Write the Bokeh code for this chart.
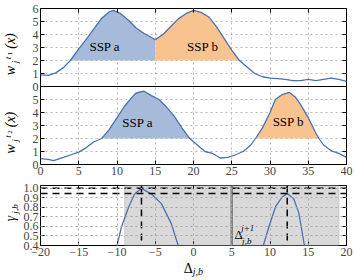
import numpy as np
from bokeh.plotting import figure
from bokeh.models import Range1d, LinearAxis, FixedTicker, Span, BoxAnnotation, Label
from bokeh.layouts import column, row
from bokeh.embed import file_html
from bokeh.resources import INLINE

# ---------------- data ----------------
x_t1 = [0, 1, 2, 3, 3.9, 5, 6, 7, 8, 9, 9.5, 10.5, 11.5, 12.5, 13.5, 14.3, 15, 16, 17, 18, 19, 20,
        21, 22, 23, 24, 25, 26, 27, 28, 29, 30, 31, 32, 33, 34, 35, 36, 37, 38, 39, 40]
w_t1 = [0.9, 0.85, 1.05, 1.45, 2.0, 2.9, 3.65, 4.45, 5.25, 5.75, 5.85, 5.6, 5.1, 4.5, 4.1, 3.85, 3.6,
        4.0, 4.6, 5.2, 5.6, 5.85, 5.7, 5.35, 4.6, 3.7, 2.8, 2.0, 1.5, 1.0, 0.75, 0.65, 0.6, 0.55,
        0.45, 0.45, 0.55, 0.45, 0.55, 0.65, 0.55, 0.4]

x_t2 = [0, 1, 1.7, 3, 4, 5, 6, 7, 8, 9, 10, 11, 12, 12.5, 13.5, 14.5, 15.5, 16.5, 17.5, 18.5, 19.5,
        20.5, 21.5, 22.5, 23.5, 24.5, 25.5, 26.5, 27.5, 28.1, 29, 30, 30.7, 31.5, 32.5, 33.3, 34, 35,
        36, 36.4, 37, 38, 39, 40]
w_t2 = [0.45, 0.4, 0.3, 0.55, 0.75, 0.95, 1.3, 1.75, 2.0, 2.7, 3.6, 4.5, 5.2, 5.5, 5.65, 5.3, 5.0,
        4.4, 3.7, 2.8, 2.0, 1.5, 1.0, 0.85, 0.5, 0.55, 0.75, 1.0, 1.5, 2.0, 2.8, 4.0, 5.0, 5.35,
        5.55, 5.2, 4.6, 3.6, 2.4, 2.0, 1.5, 1.05, 0.85, 0.55]

ssp_level = 2.0
ssp_names = ["SSP a", "SSP b"]
ssp_t1_bounds = [(3.9, 15.0), (15.0, 26.0)]
ssp_t2_bounds = [(8.0, 19.5), (28.1, 36.4)]

delta_a = [-10.0, -9.4, -8.5, -7.7, -6.8, -5.5, -4.2, -2.9, -2.0]
gamma_a = [0.40, 0.60, 0.80, 0.94, 1.00, 0.94, 0.84, 0.63, 0.40]
delta_b = [9.13, 9.87, 10.74, 11.6, 12.25, 13.1, 13.77, 14.5]
gamma_b = [0.40, 0.60, 0.81, 0.91, 0.945, 0.89, 0.74, 0.40]

peak_delta = [-6.8, 12.25]
peak_gamma = [1.0, 0.945]
shade_range = (-9.0, 19.0)
delta_next = 5.0

x_ticks = list(range(0, 41, 5))
delta_ticks = list(range(-20, 21, 5))
w_ticks = list(range(0, 7))
gamma_ticks = [0.4, 0.5, 0.6, 0.7, 0.8, 0.9, 1.0]

# ---------------- style ----------------
FONT = "Liberation Serif"
BLUE = "#4a72b0"
BLUE_FILL = "#a6bad9"
ORANGE_FILL = "#f9c390"
GRID = "#b8b8b8"
PAGE_H = 280
LW = 20          # width of the left label strip


def style_axis(ax, ticks, labels=True):
    ax.axis_line_color = None
    ax.major_tick_in = 4
    ax.major_tick_out = 0
    ax.major_tick_line_color = "black"
    ax.major_tick_line_width = 1
    ax.minor_tick_line_color = None
    ax.major_label_text_font = FONT
    if labels:
        ax.major_label_text_font_size = "12px"
        ax.major_label_standoff = 2
    else:
        ax.major_label_overrides = {t: "" for t in ticks}
        ax.major_label_text_font_size = "1px"
        ax.major_label_standoff = 0


def piece(p, x, y, text, size, style="normal", angle=0.0, **kw):
    p.add_layout(Label(x=x, y=y, text=text, angle=angle, text_font=FONT,
                       text_font_size=f"{size}px", text_font_style=style,
                       text_align="center", text_baseline="middle", text_color="black", **kw))


def strip(w, h):
    s = figure(width=w, height=h, x_range=Range1d(0, w), y_range=Range1d(0, h),
               output_backend="svg", toolbar_location=None, min_border=0,
               x_axis_location=None, y_axis_location=None)
    s.outline_line_color = None
    s.grid.visible = False
    return s


# ---------------- top figure (two w panels) ----------------
p = figure(frame_width=306, frame_height=156, x_range=Range1d(0, 40), y_range=Range1d(0, 12),
           output_backend="svg", toolbar_location=None, min_border_left=17, min_border_right=10,
           min_border_top=8, min_border_bottom=16)
p.extra_y_ranges = {"t1": Range1d(-6, 6)}
p.outline_line_color = "black"
p.outline_line_width = 1

left_ticks = w_ticks[:-1] + [t + w_ticks[-1] for t in w_ticks]
p.yaxis.ticker = FixedTicker(ticks=left_ticks)
style_axis(p.yaxis[0], left_ticks)
p.yaxis.major_label_overrides = {t + w_ticks[-1]: str(t) for t in w_ticks}
p.xaxis.ticker = FixedTicker(ticks=x_ticks)
style_axis(p.xaxis[0], x_ticks)

ax_r = LinearAxis(ticker=FixedTicker(ticks=left_ticks))
style_axis(ax_r, left_ticks, labels=False)
p.add_layout(ax_r, "right")
ax_t = LinearAxis(ticker=FixedTicker(ticks=x_ticks))
style_axis(ax_t, x_ticks, labels=False)
p.add_layout(ax_t, "above")

for g in (p.xgrid[0], p.ygrid[0]):
    g.grid_line_color = GRID
    g.grid_line_dash = "2 3"
    g.grid_line_width = 1
p.xgrid.ticker = FixedTicker(ticks=x_ticks)
p.ygrid.ticker = FixedTicker(ticks=left_ticks)

x1 = np.array(x_t1); y1 = np.array(w_t1)
x2 = np.array(x_t2); y2 = np.array(w_t2)
fills = [BLUE_FILL, ORANGE_FILL]
for (lo, hi), c in zip(ssp_t1_bounds, fills):
    m = (x1 >= lo) & (x1 <= hi)
    p.varea(x=x1[m], y1=ssp_level, y2=y1[m], fill_color=c, y_range_name="t1")
for (lo, hi), c in zip(ssp_t2_bounds, fills):
    m = (x2 >= lo) & (x2 <= hi)
    p.varea(x=x2[m], y1=ssp_level, y2=y2[m], fill_color=c)
p.line(x_t1, w_t1, line_color=BLUE, line_width=1.3, y_range_name="t1")
p.line(x_t2, w_t2, line_color=BLUE, line_width=1.3)

p.add_layout(Span(location=w_ticks[-1], dimension="width", line_color="black", line_width=1))

for name, (tx, ty) in zip(ssp_names, [(8.4, 3.1), (21.2, 3.1)]):
    piece(p, tx, ty, name, 13, y_range_name="t1")
for name, (tx, ty) in zip(ssp_names, [(12.7, 3.2), (32.4, 3.3)]):
    piece(p, tx, ty, name, 13)

# ---------------- bottom figure (gamma) ----------------
q = figure(frame_width=306, frame_height=60, x_range=Range1d(-20, 20), y_range=Range1d(0.4, 1.03),
           output_backend="svg", toolbar_location=None, min_border_left=17, min_border_right=10,
           min_border_top=5, min_border_bottom=17)
q.extra_x_ranges = {"top": Range1d(0, 40)}
q.outline_line_color = "black"
q.outline_line_width = 1

q.xaxis.ticker = FixedTicker(ticks=delta_ticks)
style_axis(q.xaxis[0], delta_ticks)
q.xaxis.major_label_overrides = {t: (f"\u2212{abs(t)}" if t < 0 else str(t)) for t in delta_ticks}
q.yaxis.ticker = FixedTicker(ticks=gamma_ticks)
style_axis(q.yaxis[0], gamma_ticks)
q.yaxis.major_label_overrides = {t: f"{t:.1f}" for t in gamma_ticks}
qt = LinearAxis(x_range_name="top", ticker=FixedTicker(ticks=x_ticks))
style_axis(qt, x_ticks, labels=False)
q.add_layout(qt, "above")
qr = LinearAxis(ticker=FixedTicker(ticks=gamma_ticks))
style_axis(qr, gamma_ticks, labels=False)
q.add_layout(qr, "right")

for g in (q.xgrid[0], q.ygrid[0]):
    g.grid_line_color = "#a8a8a8"
    g.grid_line_dash = "2 3"
    g.grid_line_width = 1
    g.level = "overlay"
q.xgrid.ticker = FixedTicker(ticks=delta_ticks)
q.ygrid.ticker = FixedTicker(ticks=gamma_ticks)

q.add_layout(BoxAnnotation(left=shade_range[0], right=shade_range[1], fill_color="#d9d9d9",
                           fill_alpha=1, line_color="#a0a0a0", line_width=1.5, level="underlay"))
q.add_layout(Span(location=delta_next, dimension="height", line_color="#808080", line_width=2.5))

for g in peak_gamma:
    q.add_layout(Span(location=g, dimension="width", line_color="black", line_width=1.5,
                      line_dash="7 5"))
for d in peak_delta:
    q.add_layout(Span(location=d, dimension="height", line_color="black", line_width=1.5,
                      line_dash="7 5"))

q.line(delta_a, gamma_a, line_color=BLUE, line_width=1.3)
q.line(delta_b, gamma_b, line_color=BLUE, line_width=1.3)

for text, dx, dy, size, style in [("\u0394", 7, 11, 13, "normal"), ("j+1", 16, 18, 9, "italic"),
                                  ("j,b", 15, 5, 9, "italic")]:
    piece(q, delta_next, 0.4, text, size, style, x_offset=dx, y_offset=dy)

# ---------------- label strips (page pixel coordinates) ----------------
L = strip(LW, PAGE_H)
R = np.pi / 2
for shift in (0, 78.5):
    sup = "1" if shift == 0 else "2"
    piece(L, 10, PAGE_H - (70 + shift), "w", 14, "italic", angle=R)
    piece(L, 14.3, PAGE_H - (61.5 + shift), "j", 9, "italic", angle=R)
    piece(L, 7, PAGE_H - (57.5 + shift), "t", 9, "italic", angle=R)
    piece(L, 9.5, PAGE_H - (53 + shift), sup, 7, "normal", angle=R)
    piece(L, 10, PAGE_H - (40.5 + shift), "(x)", 14, "italic", angle=R)
piece(L, 10, PAGE_H - 218, "\u03b3", 14, "italic", angle=R)
piece(L, 14.3, PAGE_H - 208.5, "j,b", 9, "italic", angle=R)

BH = 18
B = strip(335 - LW + 18, BH)
piece(B, 182.5 - LW, PAGE_H - 268, "\u0394", 14)
piece(B, 193 - LW, PAGE_H - 271, "j,b", 10, "italic")

layout = row(L, column(p, q, B))
open("out.html", "w").write(file_html(layout, INLINE))
